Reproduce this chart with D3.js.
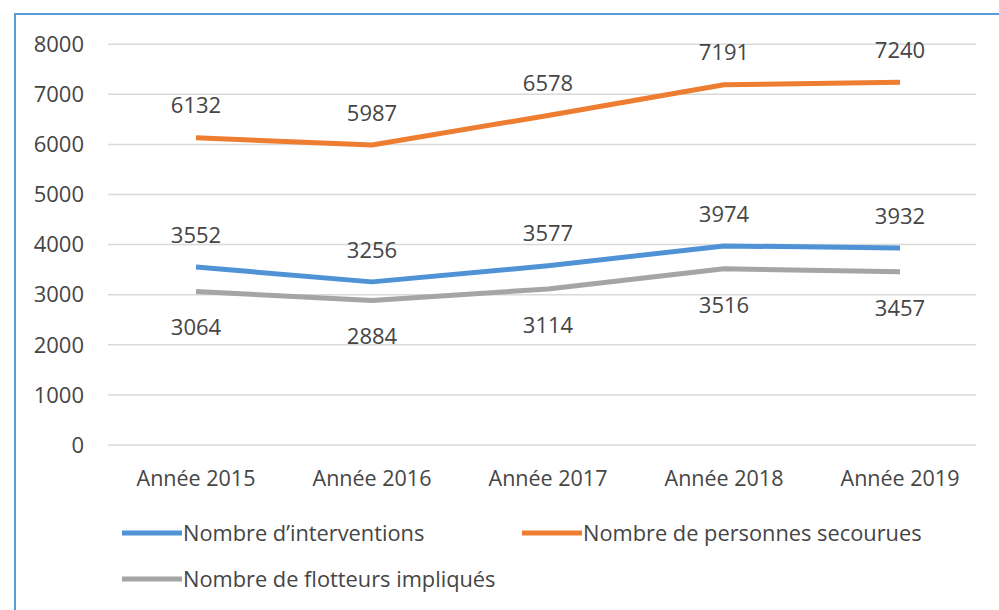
<!DOCTYPE html>
<html>
<head>
<meta charset="utf-8">
<script src="https://cdn.jsdelivr.net/npm/d3@7"></script>
<style>
  body { margin: 0; background: #fff; }
  text { font-family: "Open Sans", sans-serif; fill: #454545; }
</style>
</head>
<body>
<svg id="chart" width="999" height="610"></svg>
<script>
const width = 999;
const height = 610;

// data
const years = ["Année 2015", "Année 2016", "Année 2017", "Année 2018", "Année 2019"];
const interventions = [3552, 3256, 3577, 3974, 3932];
const personnes = [6132, 5987, 6578, 7191, 7240];
const flotteurs = [3064, 2884, 3114, 3516, 3457];
const yTicks = [0, 1000, 2000, 3000, 4000, 5000, 6000, 7000, 8000];

const series = [
  { name: "Nombre d’interventions", values: interventions, color: "#4f92d6", labelPos: "above" },
  { name: "Nombre de personnes secourues", values: personnes, color: "#ed7d31", labelPos: "above" },
  { name: "Nombre de flotteurs impliqués", values: flotteurs, color: "#a5a5a5", labelPos: "below" },
];

const svg = d3.select("#chart");

// frame
svg.append("rect")
  .attr("x", 15).attr("y", 14)
  .attr("width", 1000).attr("height", 620)
  .attr("fill", "#fff")
  .attr("stroke", "#5b9bd5")
  .attr("stroke-width", 2);

const x = d3.scaleBand().domain(years).range([108, 988]);
const y = d3.scaleLinear().domain([0, 8000]).range([445, 44.2]);

// gridlines
svg.append("g")
  .selectAll("line")
  .data(yTicks)
  .join("line")
  .attr("x1", 108).attr("x2", 976)
  .attr("y1", (d) => y(d)).attr("y2", (d) => y(d))
  .attr("stroke", "#d9d9d9")
  .attr("stroke-width", 1.5);

// y tick labels
svg.append("g")
  .selectAll("text")
  .data(yTicks)
  .join("text")
  .attr("x", 84)
  .attr("y", (d) => y(d))
  .attr("dy", "0.35em")
  .attr("text-anchor", "end")
  .style("font-size", "22px")
  .text((d) => d);

// category labels
svg.append("g")
  .selectAll("text")
  .data(years)
  .join("text")
  .attr("x", (d) => x(d) + x.bandwidth() / 2)
  .attr("y", 478)
  .attr("dy", "0.35em")
  .attr("text-anchor", "middle")
  .style("font-size", "21.5px")
  .text((d) => d);

const line = d3.line()
  .x((d, i) => x(years[i]) + x.bandwidth() / 2)
  .y((d) => y(d));

// lines
svg.append("g")
  .selectAll("path")
  .data(series)
  .join("path")
  .attr("d", (s) => line(s.values))
  .attr("fill", "none")
  .attr("stroke", (s) => s.color)
  .attr("stroke-width", 5)
  .attr("stroke-linejoin", "round");

// data labels
series.forEach((s) => {
  svg.append("g")
    .selectAll("text")
    .data(s.values)
    .join("text")
    .attr("x", (d, i) => x(years[i]) + x.bandwidth() / 2)
    .attr("y", (d) => y(d) + (s.labelPos === "above" ? -32 : 36))
    .attr("dy", "0.35em")
    .attr("text-anchor", "middle")
    .style("font-size", "22px")
    .text((d) => d);
});

// legend
const legendItems = [
  { s: series[0], x: 122, y: 533 },
  { s: series[1], x: 522, y: 533 },
  { s: series[2], x: 122, y: 579 },
];

const legend = svg.append("g").attr("class", "legend");
const items = legend.selectAll("g")
  .data(legendItems)
  .join("g")
  .attr("transform", (d) => `translate(${d.x}, ${d.y})`);

items.append("line")
  .attr("x1", 0).attr("x2", 60)
  .attr("y1", 0).attr("y2", 0)
  .attr("stroke", (d) => d.s.color)
  .attr("stroke-width", 5);

items.append("text")
  .attr("x", 61)
  .attr("y", 0)
  .attr("dy", "0.35em")
  .style("font-size", "21.8px")
  .text((d) => d.s.name);
</script>
</body>
</html>
